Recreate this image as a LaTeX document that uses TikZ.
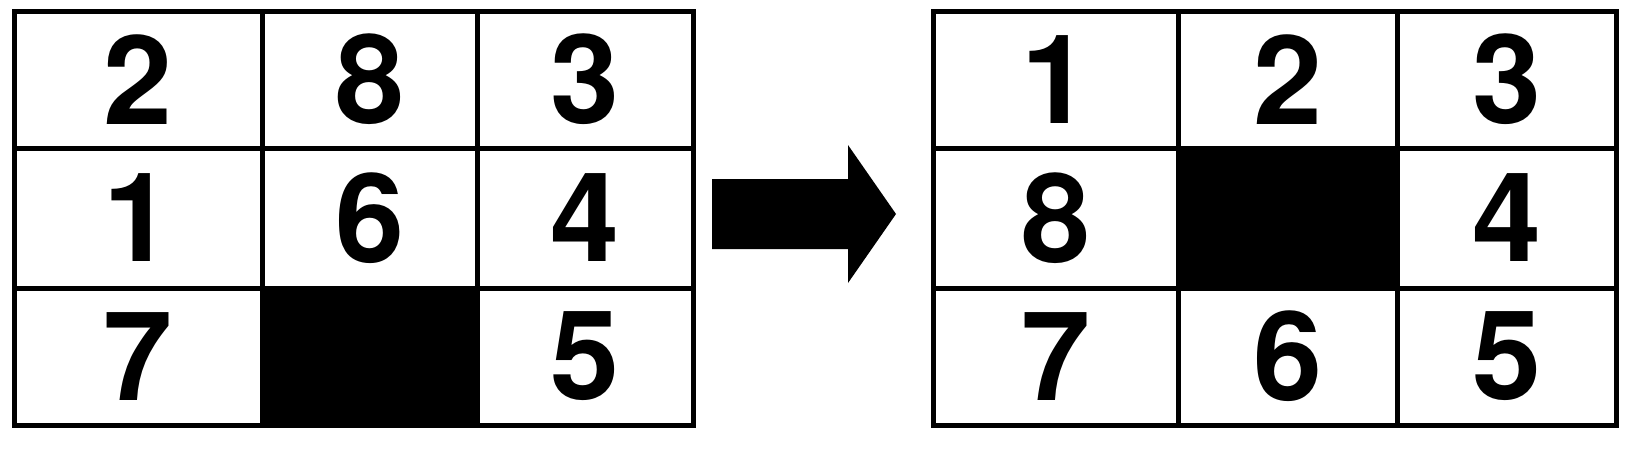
\documentclass[tikz,border=0pt]{standalone}
\usepackage{fontspec}
\newfontfamily\numfont{TeX Gyre Heros}
\begin{document}
\begin{tikzpicture}[x=1pt,y=-1pt,
  cell/.style={draw=black,line width=5pt,inner sep=0pt,
    font=\numfont\bfseries\fontsize{124}{124}\selectfont},
  blank/.style={cell,fill=black}]
\useasboundingbox (0,0) rectangle (1628,453);
% left grid: columns 14,262,477,693 ; rows 11,148,288,425
\node[cell,minimum width=248pt,minimum height=137pt] (L11) at (138,79.5) {2};
\node[cell,minimum width=215pt,minimum height=137pt] (L12) at (369.5,79.5) {8};
\node[cell,minimum width=216pt,minimum height=137pt] (L13) at (585,79.5) {3};
\node[cell,minimum width=248pt,minimum height=140pt] (L21) at (138,218) {1};
\node[cell,minimum width=215pt,minimum height=140pt] (L22) at (369.5,218) {6};
\node[cell,minimum width=216pt,minimum height=140pt] (L23) at (585,218) {4};
\node[cell,minimum width=248pt,minimum height=137pt] (L31) at (138,356.5) {7};
\node[blank,minimum width=215pt,minimum height=137pt] (L32) at (369.5,356.5) {};
\node[cell,minimum width=216pt,minimum height=137pt] (L33) at (585,356.5) {5};
% right grid: columns 933,1178,1397,1616
\node[cell,minimum width=245pt,minimum height=137pt] (R11) at (1055.5,79.5) {1};
\node[cell,minimum width=219pt,minimum height=137pt] (R12) at (1287.5,79.5) {2};
\node[cell,minimum width=219pt,minimum height=137pt] (R13) at (1506.5,79.5) {3};
\node[cell,minimum width=245pt,minimum height=140pt] (R21) at (1055.5,218) {8};
\node[blank,minimum width=219pt,minimum height=140pt] (R22) at (1287.5,218) {};
\node[cell,minimum width=219pt,minimum height=140pt] (R23) at (1506.5,218) {4};
\node[cell,minimum width=245pt,minimum height=137pt] (R31) at (1055.5,356.5) {7};
\node[cell,minimum width=219pt,minimum height=137pt] (R32) at (1287.5,356.5) {6};
\node[cell,minimum width=219pt,minimum height=137pt] (R33) at (1506.5,356.5) {5};
% block arrow
\fill[black] (712,179) -- (848,179) -- (848,145) -- (896,214) -- (848,283) -- (848,249) -- (712,249) -- cycle;
\end{tikzpicture}
\end{document}
